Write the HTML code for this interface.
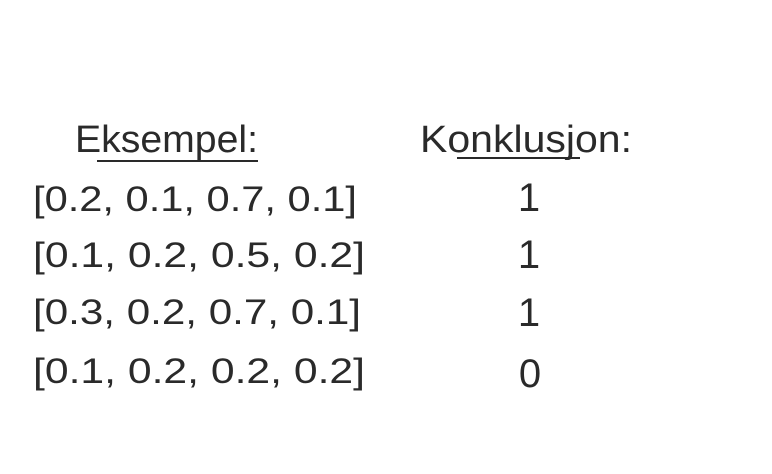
<!DOCTYPE html>
<html>
<head>
<meta charset="utf-8">
<style>
  html,body{margin:0;padding:0;background:#fff;}
  svg{display:block;}
  text{font-family:"Liberation Sans",sans-serif;fill:#2a2a2a;font-weight:normal;}
</style>
</head>
<body>
<svg width="772" height="474" viewBox="0 0 772 474">
  <g>
    <text x="75" y="152" font-size="38" textLength="183" lengthAdjust="spacingAndGlyphs">Eksempel:</text>
    <line x1="97" y1="161" x2="258" y2="161" stroke="#2a2a2a" stroke-width="2"/>
    <text x="420" y="152" font-size="38" textLength="212" lengthAdjust="spacingAndGlyphs">Konklusjon:</text>
    <line x1="457" y1="158" x2="580" y2="158" stroke="#2a2a2a" stroke-width="2"/>
  </g>
  <g>
    <text x="33" y="211" font-size="35" textLength="324" lengthAdjust="spacingAndGlyphs">[0.2, 0.1, 0.7, 0.1]</text>
    <text x="529" y="211" font-size="40" text-anchor="middle">1</text>
  </g>
  <g>
    <text x="33" y="267" font-size="35" textLength="332" lengthAdjust="spacingAndGlyphs">[0.1, 0.2, 0.5, 0.2]</text>
    <text x="529" y="268" font-size="40" text-anchor="middle">1</text>
  </g>
  <g>
    <text x="33" y="324" font-size="35" textLength="328" lengthAdjust="spacingAndGlyphs">[0.3, 0.2, 0.7, 0.1]</text>
    <text x="529" y="326" font-size="40" text-anchor="middle">1</text>
  </g>
  <g>
    <text x="33" y="383" font-size="35" textLength="332" lengthAdjust="spacingAndGlyphs">[0.1, 0.2, 0.2, 0.2]</text>
    <text x="530" y="387" font-size="40" text-anchor="middle">0</text>
  </g>
</svg>
</body>
</html>
